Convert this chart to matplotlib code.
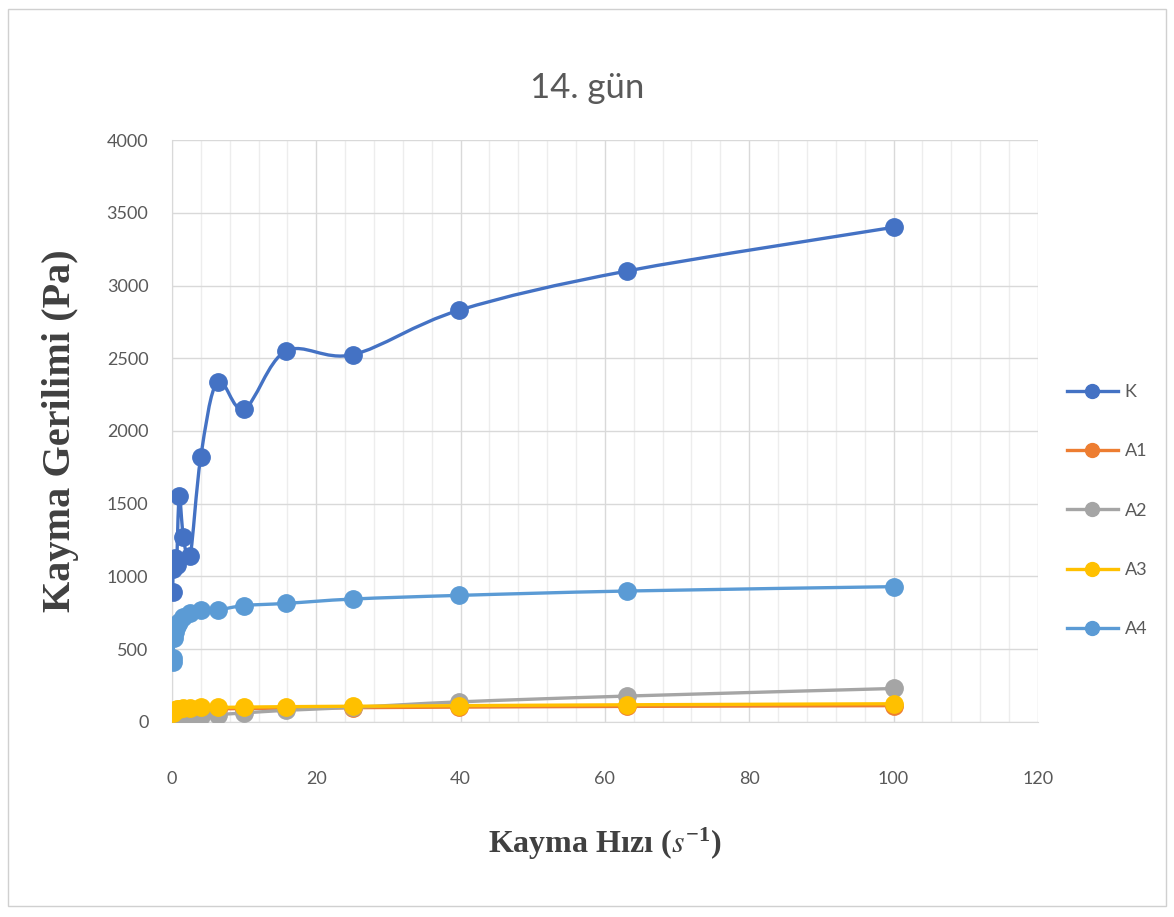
import numpy as np
import matplotlib
matplotlib.use("Agg")
import matplotlib.pyplot as plt
from matplotlib.patches import Rectangle, PathPatch
from matplotlib.path import Path
from matplotlib.lines import Line2D
from matplotlib.ticker import MultipleLocator

# shear rate (1/s) and shear stress (Pa)
shear_rate = [0.1, 0.158, 0.251, 0.398, 0.631, 1.0, 1.58, 2.51, 3.98, 6.31,
              10, 15.8, 25.1, 39.8, 63.1, 100]
K = [890, 1050, 1100, 1130, 1080, 1550, 1270, 1140, 1818, 2340,
     2150, 2550, 2525, 2830, 3100, 3400]
A1 = [40, 50, 58, 64, 70, 75, 80, 84, 88, 90,
      92, 95, 98, 102, 107, 112]
A2 = [5, 8, 12, 15, 18, 22, 27, 33, 40, 50,
      62, 80, 100, 138, 178, 230]
A3 = [60, 70, 78, 83, 88, 92, 95, 98, 100, 100,
      102, 105, 108, 112, 118, 125]
A4 = [410, 440, 580, 620, 660, 690, 720, 750, 770, 770,
      800, 815, 845, 870, 900, 930]

series = [("K", K, "#4472C4"), ("A1", A1, "#ED7D31"), ("A2", A2, "#A5A5A5"),
          ("A3", A3, "#FFC000"), ("A4", A4, "#5B9BD5")]

plt.rcParams["font.family"] = ["Lato", "DejaVu Sans"]
plt.rcParams["mathtext.fontset"] = "stix"

fig = plt.figure(figsize=(11.74, 9.17), dpi=100)
ax = fig.add_axes([0.1465, 0.2127, 0.7375, 0.6346])
ax.set_xlim(0, 120)
ax.set_ylim(0, 4000)


def smooth_path(x, y):
    # excel-like smoothed line: bezier segments built in screen space
    pts = ax.transData.transform(np.column_stack([x, y]))
    n = len(pts)
    verts = [pts[0]]
    codes = [Path.MOVETO]
    for i in range(n - 1):
        p0 = pts[i - 1] if i > 0 else pts[i]
        p1, p2 = pts[i], pts[i + 1]
        p3 = pts[i + 2] if i + 2 < n else pts[i + 1]
        verts += [p1 + (p2 - p0) / 6, p2 - (p3 - p1) / 6, p2]
        codes += [Path.CURVE4] * 3
    return Path(ax.transData.inverted().transform(np.array(verts)), codes)


# light border around the whole picture
fig.patches.append(Rectangle((0.007, 0.012), 0.986, 0.978, transform=fig.transFigure,
                             fill=False, edgecolor="#d0d0d0", linewidth=1))

handles = []
for i, (name, vals, col) in enumerate(series):
    ax.add_patch(PathPatch(smooth_path(shear_rate, vals), fill=False,
                           edgecolor=col, lw=2.4, zorder=3 + i))
    ax.plot(shear_rate, vals, ls="none", marker="o", ms=12.5, color=col, zorder=3 + i)
    handles.append(Line2D([], [], color=col, lw=2.4, marker="o", ms=10, label=name))

ax.xaxis.set_major_locator(MultipleLocator(20))
ax.xaxis.set_minor_locator(MultipleLocator(4))
ax.yaxis.set_major_locator(MultipleLocator(500))
ax.grid(which="major", color="#d9d9d9", lw=1)
ax.grid(which="minor", axis="x", color="#ededed", lw=1)
ax.set_axisbelow(True)
for s in ["top", "right"]:
    ax.spines[s].set_visible(False)
for s in ["left", "bottom"]:
    ax.spines[s].set_color("#d9d9d9")
ax.tick_params(which="both", length=0, labelsize=13, labelcolor="#595959")
ax.tick_params(axis="x", pad=35)
ax.tick_params(axis="y", pad=17)

fig.text(0.5, 0.893, "14. gün", fontsize=25, color="#595959", ha="center", va="baseline")
ax.set_xlabel(r"Kayma Hızı ($\mathit{s}^{\mathregular{-1}}$)", family="Liberation Serif",
              fontweight="bold", fontsize=23, color="#404040", labelpad=28)
ax.set_ylabel("Kayma Gerilimi (Pa)", family="Liberation Serif",
              fontweight="bold", fontsize=29, color="#404040", labelpad=20)

fig.legend(handles=handles, loc="center left", bbox_to_anchor=(0.895, 0.443),
           frameon=False, fontsize=13, labelcolor="#595959", labelspacing=2.4,
           handlelength=2.8, handletextpad=0.4)

fig.savefig("out.png", dpi=100, facecolor="white")
